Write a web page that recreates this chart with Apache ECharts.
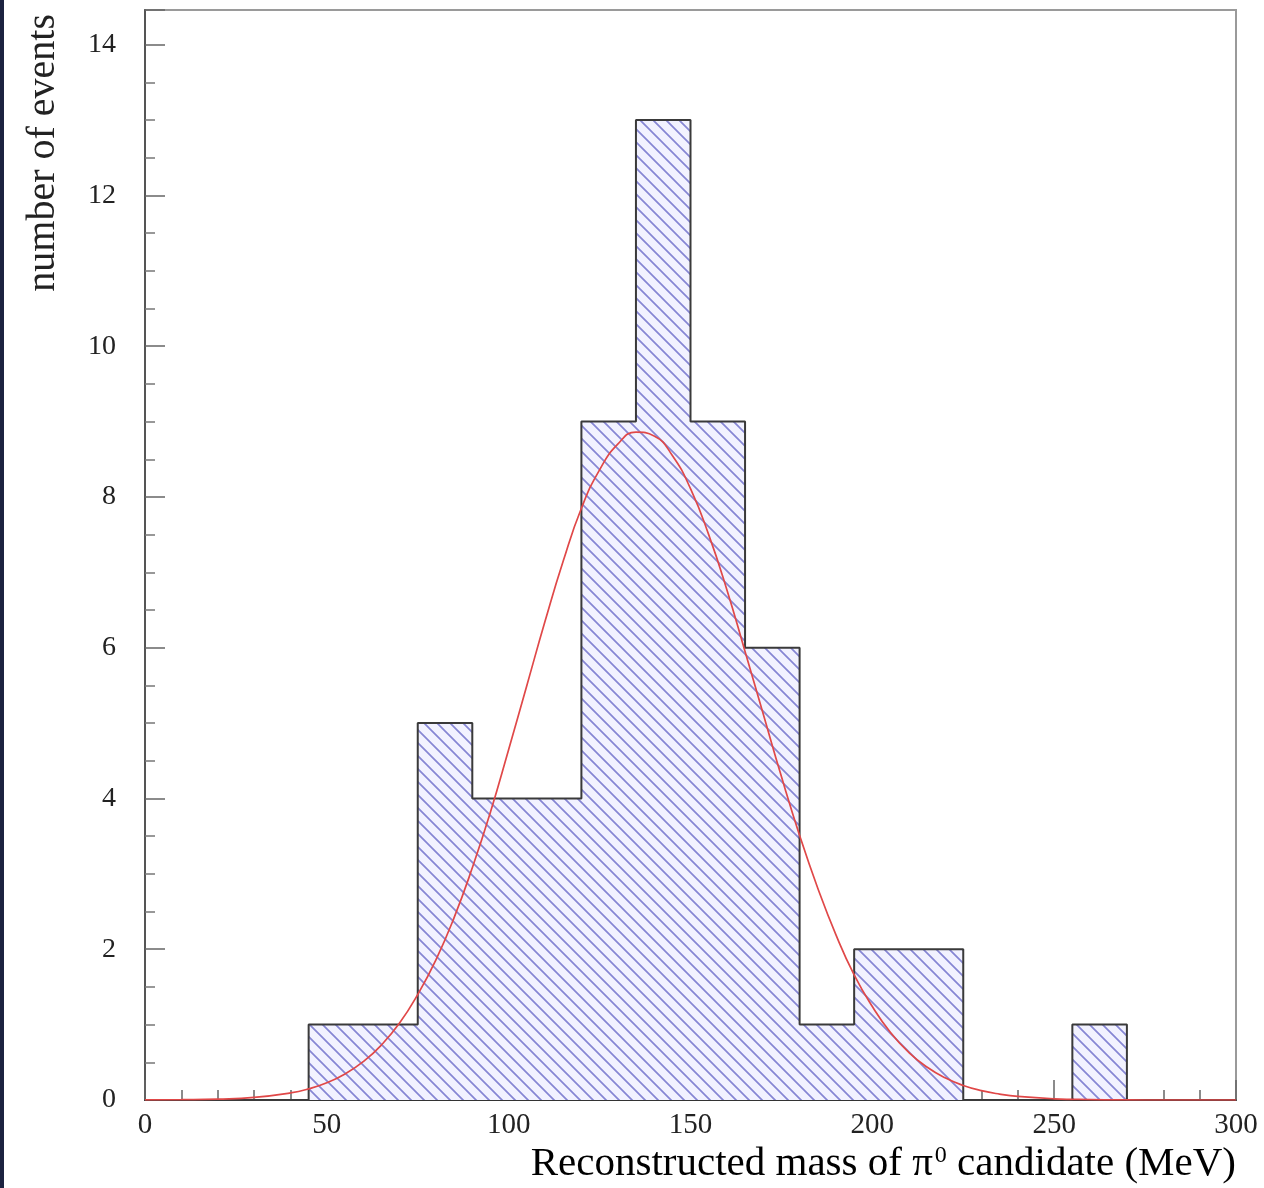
<!DOCTYPE html>
<html>
<head>
<meta charset="utf-8">
<script src="https://cdn.jsdelivr.net/npm/echarts@6/dist/echarts.min.js"></script>
<style>
html,body{margin:0;padding:0;background:#fff;}
#chart{width:1264px;height:1188px;}
</style>
</head>
<body>
<div id="chart"></div>
<script>
// ---- data ----
var binLow = [0,15,30,45,60,75,90,105,120,135,150,165,180,195,210,225,240,255,270,285];
var binHigh = 300;
var counts = [0,0,0,1,1,5,4,4,9,13,9,6,1,2,2,0,0,1,0,0];
var fitX = [0,10,20,30,40,45,50,55,60,65,70,75,80,85,90,95,100,105,110,115,120,125,130,135,140,145,150,155,160,165,170,175,180,185,190,195,200,205,210,215,220,225,230,235,240,250,260,270,280,290,300];
var fitY = [0.001,0.004,0.012,0.035,0.094,0.148,0.229,0.346,0.508,0.729,1.02,1.40,1.86,2.42,3.08,3.82,4.65,5.50,6.35,7.15,7.85,8.36,8.70,8.86,8.81,8.55,8.11,7.50,6.77,5.95,5.12,4.29,3.51,2.81,2.19,1.66,1.24,0.895,0.633,0.437,0.294,0.193,0.124,0.078,0.047,0.016,0.005,0.001,0,0,0];
var xTicks = {min:0, max:300, interval:50};
var yTicks = {min:0, max:14.46, interval:2};
var xTitle = 'Reconstructed mass of π';
var yTitle = 'number of events';

// ---- build series data ----
var histData = [];
for (var i = 0; i < binLow.length; i++) histData.push([binLow[i], counts[i]]);
histData.push([binHigh, counts[counts.length - 1]]);
var fitData = fitX.map(function (x, i) { return [x, fitY[i]]; });

// hatch pattern
var T = 13;
var tile = document.createElement('canvas');
tile.width = T; tile.height = T;
var c = tile.getContext('2d');
c.fillStyle = '#f2f2ff';
c.fillRect(0, 0, T, T);
c.strokeStyle = '#8686d4';
c.lineWidth = 1.7;
c.beginPath();
c.moveTo(-2, -2); c.lineTo(T + 2, T + 2);
c.moveTo(-2, T - 2); c.lineTo(2, T + 2);
c.moveTo(T - 2, -2); c.lineTo(T + 2, 2);
c.stroke();

var FONT = "'Liberation Serif','Times New Roman',serif";
var chart = echarts.init(document.getElementById('chart'), null, {renderer: 'canvas'});
chart.setOption({
  animation: false,
  backgroundColor: '#ffffff',
  grid: {left: 145, right: 28, top: 10, bottom: 88, show: true, borderColor: '#9a9a9a', borderWidth: 2, backgroundColor: 'transparent'},
  xAxis: {
    type: 'value', min: xTicks.min, max: xTicks.max, interval: xTicks.interval,
    axisLine: {show: true, lineStyle: {color: '#333', width: 2}},
    axisTick: {show: true, inside: true, length: 20, lineStyle: {color: '#666', width: 1.5}},
    minorTick: {show: true, splitNumber: 5, length: 10, lineStyle: {color: '#666', width: 1.5}},
    splitLine: {show: false},
    axisLabel: {fontFamily: FONT, fontSize: 29, color: '#222', margin: 11}
  },
  yAxis: {
    type: 'value', min: yTicks.min, max: yTicks.max, interval: yTicks.interval,
    axisLine: {show: true, lineStyle: {color: '#555', width: 2}},
    axisTick: {show: true, inside: true, length: 20, lineStyle: {color: '#666', width: 1.5}},
    minorTick: {show: true, splitNumber: 4, length: 10, lineStyle: {color: '#777', width: 1.5}},
    splitLine: {show: false},
    axisLabel: {fontFamily: FONT, fontSize: 28, color: '#222', margin: 29, showMaxLabel: false}
  },
  graphic: [
    {type: 'rect', left: 0, top: 0, shape: {width: 4, height: 1188}, style: {fill: '#1c2240'}, silent: true},
    {type: 'text', x: 23, y: 14, rotation: Math.PI / 2, style: {text: yTitle, font: '40px ' + FONT, fill: '#222', textAlign: 'right', textVerticalAlign: 'top'}},
    {type: 'text', right: 28, top: 1144, style: {
      text: '{a|' + xTitle + '}{s|0}{a| candidate (MeV)}',
      rich: {a: {fontFamily: FONT, fontSize: 41, color: '#222'}, s: {fontFamily: FONT, fontSize: 24, color: '#222', verticalAlign: 'top', padding: [0, 0, 16, 2]}}
    }}
  ],
  series: [
    {
      type: 'line', step: 'end', data: histData, showSymbol: false, symbol: 'none',
      lineStyle: {color: '#3a3a3a', width: 2},
      areaStyle: {color: {image: tile, repeat: 'repeat'}, opacity: 1},
      z: 2
    },
    {
      type: 'line', smooth: true, data: fitData, showSymbol: false, symbol: 'none',
      lineStyle: {color: '#e04848', width: 1.7},
      z: 3
    }
  ]
});
</script>
</body>
</html>
